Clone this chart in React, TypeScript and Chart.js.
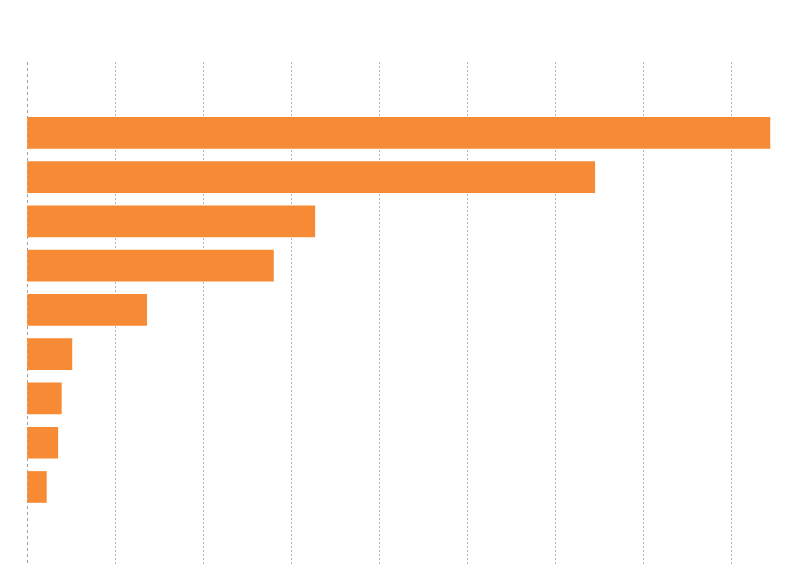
import React, { useEffect, useRef } from "react";
import { Chart, registerables } from "chart.js";

Chart.register(...registerables);

const categories = ["A", "B", "C", "D", "E", "F", "G", "H", "I"];
const values = [84.4, 64.5, 32.7, 28.0, 13.6, 5.1, 3.9, 3.5, 2.2];

export default function App() {
  const ref = useRef<HTMLCanvasElement | null>(null);

  useEffect(() => {
    if (!ref.current) return;
    const chart = new Chart(ref.current, {
      type: "bar",
      data: {
        datasets: [
          {
            label: "values",
            data: values.map((v, i) => ({ x: v, y: i })),
            backgroundColor: "#F68A35",
            borderWidth: 0,
            barThickness: 31,
          },
        ],
      },
      options: {
        indexAxis: "y",
        responsive: false,
        animation: false,
        layout: { padding: { left: 27, top: 62, right: 7, bottom: 0 } },
        plugins: { legend: { display: false }, tooltip: { enabled: false } },
        scales: {
          x: {
            type: "linear",
            min: 0,
            max: 86,
            offset: false,
            ticks: { display: false, stepSize: 10 },
            grid: {
              drawTicks: false,
              offset: false,
              color: (ctx: any) => {
                if (!ctx.tick || ctx.tick.value % 10 !== 0) return "rgba(0,0,0,0)";
                return ctx.tick.value === 0 ? "#a0a0a0" : "#b8b8b8";
              },
              lineWidth: 1,
            },
            border: {
              display: false,
              dash: (ctx: any) => (ctx.tick && ctx.tick.value === 0 ? [3, 3] : [2, 2]),
            },
          },
          y: {
            type: "linear",
            reverse: true,
            min: -1.6,
            max: 9.74,
            offset: false,
            display: false,
            ticks: { stepSize: 1, includeBounds: false },
            grid: { display: false, offset: false },
          },
        },
      },
    });
    return () => chart.destroy();
  }, []);

  return (
    <div style={{ position: "fixed", left: 0, top: 0, width: 791, height: 564, background: "#fff" }}>
      <canvas ref={ref} width={791} height={564} style={{ display: "block" }} aria-label={categories.join(",")} />
    </div>
  );
}
